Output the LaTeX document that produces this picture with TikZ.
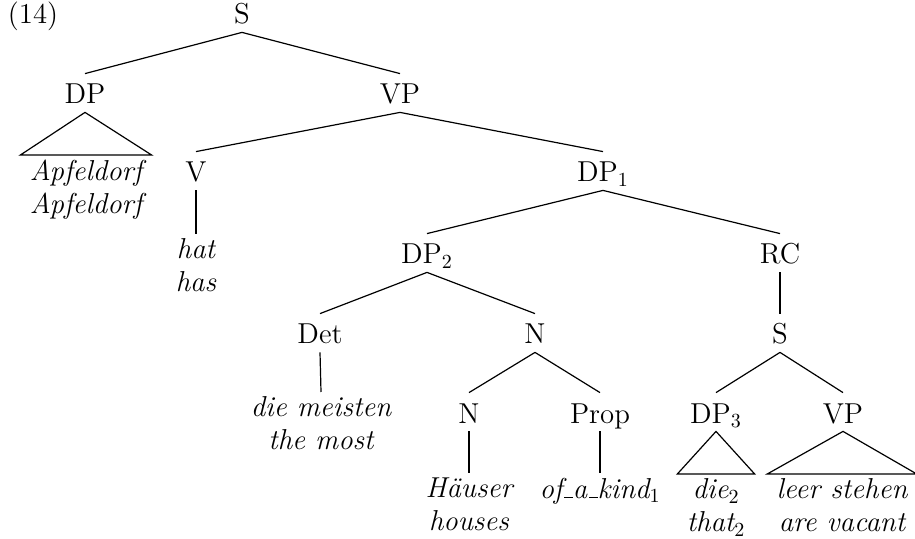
\documentclass[tikz,border=0pt]{standalone}
\usepackage{fontspec}
% short low rule, as the classic \_ of LaTeX draws it
\newcommand\undscr{\leavevmode\kern.06em\vbox{\hrule width.3em}}
\begin{document}
\begin{tikzpicture}[x=0.5pt, y=-0.5pt,
  treefont/.style={font=\fontsize{14.4}{16.5}\selectfont},
  cat/.style={treefont, anchor=base, inner xsep=0pt, inner ysep=4pt,
              text height=11pt, text depth=0pt},
  leaf/.style={font=\fontsize{14.4}{16.5}\selectfont\itshape, anchor=north,
               align=center, inner xsep=0pt, inner ysep=2.2pt},
  edge/.style={line width=0.6pt},
  roof/.style={line width=0.6pt, line join=miter}]
\useasboundingbox (0,0) rectangle (915,539);

% example number
\node[cat] (exnum) at (33,24) {(14)};

% category labels
\node[cat] (S)   at (242,24)  {S};
\node[cat] (DP)  at (85,104)  {DP};
\node[cat] (VP)  at (400,104) {VP};
\node[cat] (V)   at (196,182) {V};
\node[cat] (DPa) at (603,182) {DP$_1$};
\node[cat] (DPb) at (427,264) {DP$_2$};
\node[cat] (RC)  at (780,264) {RC};
\node[cat] (Det) at (320,344) {Det};
\node[cat] (N)   at (535,344) {N};
\node[cat] (Sr)  at (780,344) {S};
\node[cat] (Nn)  at (469,423) {N};
\node[cat] (Prop) at (600,423) {Prop};
\node[cat] (DPc) at (716,423) {DP$_3$};
\node[cat] (VPr) at (843,423) {VP};

% words with glosses
\node[leaf] (apf)  at (86,155)  {Apfeldorf\\Apfeldorf};
\node[leaf] (hat)  at (196,234) {hat\\has};
\node[leaf] (die)  at (321,392) {die meisten\\the most};
\node[leaf] (hau)  at (469,473) {Häuser\\houses};
\node[leaf] (kind) at (600,473) {of\undscr a\undscr kind$_1$};
\node[leaf] (rel)  at (716,474) {die$_2$\\that$_2$};
\node[leaf] (leer) at (842,474) {leer stehen\\are vacant};

% branches
\draw[edge] (S.south) -- (DP.north);
\draw[edge] (S.south) -- (VP.north);
\draw[edge] (VP.south) -- (V.north);
\draw[edge] (VP.south) -- (DPa.north);
\draw[edge] (V.south) -- (hat.north);
\draw[edge] (DPa.south) -- (DPb.north);
\draw[edge] (DPa.south) -- (RC.north);
\draw[edge] (DPb.south) -- (Det.north);
\draw[edge] (DPb.south) -- (N.north);
\draw[edge] (Det.south) -- (die.north);
\draw[edge] (N.south) -- (Nn.north);
\draw[edge] (N.south) -- (Prop.north);
\draw[edge] (Nn.south) -- (hau.north);
\draw[edge] (Prop.south) -- (kind.north);
\draw[edge] (RC.south) -- (Sr.north);
\draw[edge] (Sr.south) -- (DPc.north);
\draw[edge] (Sr.south) -- (VPr.north);

% triangles over unanalysed constituents
\draw[roof] (DP.south) -- ([xshift=-4.5pt]apf.north west) -- ([xshift=4.5pt]apf.north east) -- cycle;
\draw[roof] (DPc.south) -- ([xshift=-4.5pt]rel.north west) -- ([xshift=4.5pt]rel.north east) -- cycle;
\draw[roof] (VPr.south) -- ([xshift=-4.5pt]leer.north west) -- ([xshift=4.5pt]leer.north east) -- cycle;
\end{tikzpicture}
\end{document}
